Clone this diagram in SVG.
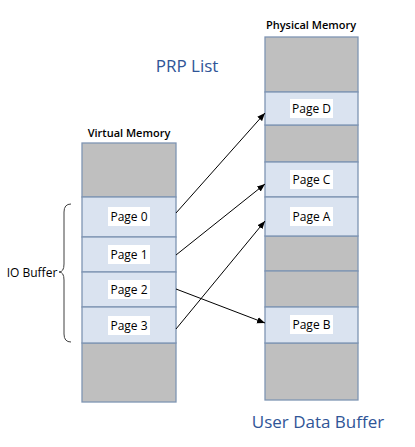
<svg xmlns="http://www.w3.org/2000/svg" width="415" height="447" viewBox="0 0 415 447">
<defs>
<style>
.g{fill:#bfbfbf;stroke:#7f95b3;stroke-width:1.3}
.b{fill:#dae3f0;stroke:#7f95b3;stroke-width:1.3}
.lb{fill:#ffffff}
.t{font-family:"Open Sans","Liberation Sans",sans-serif;font-size:12px;fill:#000;text-anchor:middle;dominant-baseline:central}
.h{font-family:"Open Sans","Liberation Sans",sans-serif;font-size:11px;font-weight:600;fill:#000;text-anchor:middle;dominant-baseline:central}
.blue{font-family:"Open Sans","Liberation Sans",sans-serif;font-size:17px;fill:#2f5597;text-anchor:middle;dominant-baseline:central}
.c{stroke:#000;stroke-width:1;fill:none;marker-end:url(#ah)}
</style>
<marker id="ah" viewBox="0 0 10 10" refX="10" refY="5" markerWidth="8" markerHeight="8" markerUnits="userSpaceOnUse" orient="auto">
<path d="M0,1 L10,5 L0,9 Z" fill="#000"/>
</marker>
</defs>
<rect width="415" height="447" fill="#fff"/>
<text class="blue" x="187" y="65">PRP List</text>
<text class="blue" x="318" y="421">User Data Buffer</text>
<g id="virtual">
<text class="h" x="129" y="132">Virtual Memory</text>
<rect class="g" x="82" y="143" width="94" height="54"/>
<rect class="g" x="82" y="343" width="94" height="59"/>
</g>
<g id="vpage0"><rect class="b" x="82" y="197" width="94" height="40"/><rect class="lb" x="108" y="207" width="42" height="19"/><text class="t" x="129" y="216.5">Page 0</text></g>
<g id="vpage1"><rect class="b" x="82" y="237" width="94" height="35"/><rect class="lb" x="108" y="245" width="42" height="19"/><text class="t" x="129" y="254.5">Page 1</text></g>
<g id="vpage2"><rect class="b" x="82" y="272" width="94" height="35"/><rect class="lb" x="108" y="280" width="42" height="19"/><text class="t" x="129" y="289.5">Page 2</text></g>
<g id="vpage3"><rect class="b" x="82" y="307" width="94" height="36"/><rect class="lb" x="108" y="316" width="42" height="19"/><text class="t" x="129" y="325">Page 3</text></g>
<g id="iobuffer">
<path d="M71,204 Q64,204 64,212 L64,264 Q64,272 59,272 Q64,272 64,280 L64,334 Q64,342 71,342" fill="none" stroke="#404040" stroke-width="1"/>
<text class="t" x="32" y="272">IO Buffer</text>
</g>
<g id="physical">
<text class="h" x="311" y="24">Physical Memory</text>
<rect class="g" x="265" y="37" width="93" height="55"/>
<rect class="g" x="265" y="125" width="93" height="37"/>
<rect class="g" x="265" y="236" width="93" height="35"/>
<rect class="g" x="265" y="271" width="93" height="36"/>
<rect class="g" x="265" y="343" width="93" height="57"/>
</g>
<g id="ppageD"><rect class="b" x="265" y="92" width="93" height="33"/><rect class="lb" x="290" y="99" width="43" height="19"/><text class="t" x="311.5" y="108.5">Page D</text></g>
<g id="ppageC"><rect class="b" x="265" y="162" width="93" height="35"/><rect class="lb" x="290" y="170" width="43" height="19"/><text class="t" x="311.5" y="179.5">Page C</text></g>
<g id="ppageA"><rect class="b" x="265" y="197" width="93" height="39"/><rect class="lb" x="290" y="207" width="43" height="19"/><text class="t" x="311.5" y="216">Page A</text></g>
<g id="ppageB"><rect class="b" x="265" y="307" width="93" height="36"/><rect class="lb" x="290" y="315" width="43" height="19"/><text class="t" x="311.5" y="324.5">Page B</text></g>
<g id="connectors">
<line class="c" x1="176" y1="213" x2="265" y2="113"/>
<line class="c" x1="176" y1="255" x2="265" y2="184"/>
<line class="c" x1="176" y1="289" x2="265" y2="323"/>
<line class="c" x1="176" y1="329" x2="265" y2="221"/>
</g>
</svg>
